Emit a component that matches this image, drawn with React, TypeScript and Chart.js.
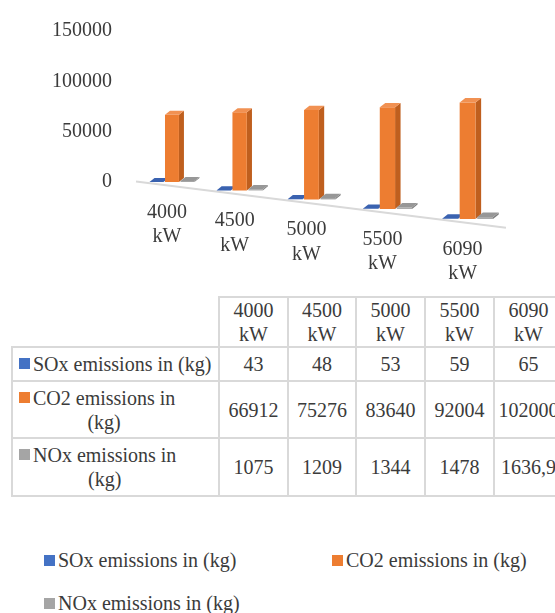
import React, { useEffect, useRef } from 'react';
import { Chart, registerables } from 'chart.js';

Chart.register(...registerables);

// ---- data -------------------------------------------------------------
const categories = ['4000 kW', '4500 kW', '5000 kW', '5500 kW', '6090 kW'];
const seriesNames = ['SOx emissions in (kg)', 'CO2 emissions in (kg)', 'NOx emissions in (kg)'];
const soxKg = [43, 48, 53, 59, 65];
const co2Kg = [66912, 75276, 83640, 92004, 102000];
const noxKg = [1075, 1209, 1344, 1478, 1636.9];
const yTickValues = [0, 50000, 100000, 150000];

const seriesData = [soxKg, co2Kg, noxKg];
const seriesColors = ['#4472C4', '#ED7D31', '#A5A5A5'];
const sideColors = ['#2F5597', '#BF5F1E', '#7F7F7F'];
const topColors = ['#3A62B0', '#F19152', '#979797'];

const FONT = '"Liberation Serif", "Times New Roman", serif';
const INK = '#3b3b3b';
const RULE = '#d9d9d9';

// ---- tilted 3-D view parameters -----------------------------------------
const VIEW = {
  bow: 13, // horizontal perspective bow of the column positions
  bowShift: 4.3,
  firstColumn: 41, // distance of the first column group from the plot's left edge
  floorSlope: 0.125, // drop of the floor per pixel to the right
  growth: 0.00045, // vertical magnification per pixel to the right
  depthX: 5,
  depthY: -4,
  floorGap: 4,
  labelDrop: 30.5,
  labelLine: 24.5,
  labelShift: -5,
};

function makeView(area: any) {
  const xc = (area.left + area.right) / 2;
  const half = (area.right - area.left) / 2;
  const x0 = area.left + VIEW.firstColumn;
  return {
    px: (x: number) => {
      const t = (x - xc) / half;
      return x + VIEW.bow * t * t - VIEW.bowShift;
    },
    base: (xp: number) => area.bottom + VIEW.floorSlope * (xp - x0),
    zoom: (xp: number) => 1 + VIEW.growth * (xp - x0),
  };
}

function fillPoly(ctx: CanvasRenderingContext2D, pts: number[][]) {
  ctx.beginPath();
  ctx.moveTo(pts[0][0], pts[0][1]);
  for (let i = 1; i < pts.length; i++) ctx.lineTo(pts[i][0], pts[i][1]);
  ctx.closePath();
  ctx.fill();
}

const perspective3d = {
  id: 'perspective3d',
  afterDatasetsUpdate(chart: any) {
    const xs = chart.scales.x;
    const ys = chart.scales.y;
    const view = makeView(chart.chartArea);
    const zero = ys.getPixelForValue(0);
    chart.data.datasets.forEach((ds: any, d: number) => {
      chart.getDatasetMeta(d).data.forEach((bar: any, i: number) => {
        const c = xs.getPixelForValue(i);
        const cp = view.px(c);
        const k = view.zoom(cp);
        const b = view.base(cp);
        const h = zero - ys.getPixelForValue(ds.data[i]);
        bar.x = cp + (bar.x - c) * k;
        bar.width = bar.width * k;
        bar.base = b;
        bar.y = b - h * k;
        bar.$depth = k;
      });
    });
  },
  beforeDatasetsDraw(chart: any) {
    const ctx = chart.ctx as CanvasRenderingContext2D;
    const area = chart.chartArea;
    const view = makeView(area);
    ctx.save();
    // front edge of the floor
    const fx0 = area.left + 5;
    const fx1 = area.right + 5.5;
    ctx.strokeStyle = RULE;
    ctx.lineWidth = 2;
    ctx.beginPath();
    ctx.moveTo(fx0, view.base(fx0) + VIEW.floorGap);
    ctx.lineTo(fx1, view.base(fx1) + VIEW.floorGap);
    ctx.stroke();
    // columns, left to right inside each group
    const metas = chart.data.datasets.map((_: any, d: number) => chart.getDatasetMeta(d));
    for (let i = 0; i < categories.length; i++) {
      metas.forEach((meta: any, d: number) => {
        const bar = meta.data[i];
        const k = bar.$depth || 1;
        const l = bar.x - bar.width / 2;
        const r = bar.x + bar.width / 2;
        const t = Math.min(bar.y, bar.base);
        const btm = bar.base;
        const dx = VIEW.depthX * k;
        const dy = VIEW.depthY * k;
        ctx.fillStyle = sideColors[d];
        fillPoly(ctx, [[r, t], [r + dx, t + dy], [r + dx, btm + dy], [r, btm]]);
        bar.draw(ctx, area);
        ctx.fillStyle = topColors[d];
        fillPoly(ctx, [[l, t], [r, t], [r + dx, t + dy], [l + dx, t + dy]]);
      });
    }
    ctx.restore();
    return false;
  },
  afterDraw(chart: any) {
    const ctx = chart.ctx as CanvasRenderingContext2D;
    const xs = chart.scales.x;
    const view = makeView(chart.chartArea);
    ctx.save();
    ctx.font = `20px ${FONT}`;
    ctx.fillStyle = INK;
    ctx.textAlign = 'center';
    ctx.textBaseline = 'middle';
    categories.forEach((label, i) => {
      const cp = view.px(xs.getPixelForValue(i));
      const y0 = view.base(cp) + VIEW.labelDrop;
      label.split(' ').forEach((line, j) => {
        ctx.fillText(line, cp + VIEW.labelShift, y0 + j * VIEW.labelLine);
      });
    });
    ctx.restore();
  },
};

// wraps a table row title the way the data table does
function wrapTitle(text: string, maxWidth: number): string[] {
  const ctx = document.createElement('canvas').getContext('2d');
  if (!ctx) return [text];
  ctx.font = `20px ${FONT}`;
  if (ctx.measureText(text).width <= maxWidth) return [text];
  const words = text.split(' ');
  const lines: string[] = [];
  let cur = '';
  for (const w of words) {
    const next = cur ? cur + ' ' + w : w;
    if (cur && ctx.measureText(next).width > maxWidth) {
      lines.push(cur);
      cur = w;
    } else {
      cur = next;
    }
  }
  lines.push(cur);
  return lines;
}

const fmt = (v: number) => String(v).replace('.', ',');

function EmissionsChart() {
  const ref = useRef<HTMLCanvasElement>(null);
  useEffect(() => {
    if (!ref.current) return;
    const chart = new Chart(ref.current, {
      type: 'bar',
      data: {
        labels: categories,
        datasets: seriesNames.map((name, d) => ({
          label: name,
          data: seriesData[d],
          backgroundColor: seriesColors[d],
          borderWidth: 0,
          categoryPercentage: 0.629,
          barPercentage: 0.9,
        })),
      },
      options: {
        responsive: false,
        animation: false,
        devicePixelRatio: 1,
        events: [],
        layout: { padding: { top: 24, right: 54.5, bottom: 114, left: 0 } },
        plugins: { legend: { display: false }, tooltip: { enabled: false } },
        scales: {
          x: { display: false },
          y: {
            min: 0,
            max: 150000,
            afterBuildTicks: (s: any) => {
              s.ticks = yTickValues.map((value) => ({ value }));
            },
            afterFit: (s: any) => {
              s.width = 131;
            },
            grid: { display: false, drawTicks: false },
            border: { display: false },
            ticks: {
              padding: 19,
              color: INK,
              font: { family: FONT, size: 20 },
              callback: (v: any) => String(v),
            },
          },
        },
      } as any,
      plugins: [perspective3d as any],
    });
    return () => chart.destroy();
  }, []);
  return (
    <canvas
      ref={ref}
      width={555}
      height={296}
      style={{ position: 'absolute', left: 0, top: 0, display: 'block' }}
    />
  );
}

const cellBorder = `2px solid ${RULE}`;
const cell: React.CSSProperties = {
  border: cellBorder,
  padding: '0 3px',
  textAlign: 'center',
  verticalAlign: 'middle',
};
const rowHeights = [34, 57, 58];

function DataTable() {
  return (
    <table
      style={{
        position: 'absolute',
        left: 11,
        top: 296,
        borderCollapse: 'collapse',
        tableLayout: 'fixed',
        width: 551,
        fontFamily: FONT,
        fontSize: 20,
        lineHeight: '24px',
        color: INK,
      }}
    >
      <colgroup>
        <col style={{ width: 207 }} />
        <col style={{ width: 69 }} />
        <col style={{ width: 68 }} />
        <col style={{ width: 69 }} />
        <col style={{ width: 69 }} />
        <col style={{ width: 69 }} />
      </colgroup>
      <tbody>
        <tr style={{ height: 47 }}>
          <td style={{ borderTop: 'none', borderLeft: 'none', borderRight: cellBorder, borderBottom: cellBorder }} />
          {categories.map((c) => (
            <td key={c} style={cell}>
              {c}
            </td>
          ))}
        </tr>
        {seriesNames.map((name, d) => {
          const lines = wrapTitle(name, 179.5);
          return (
            <tr key={name} style={{ height: rowHeights[d] }}>
              <td style={{ ...cell, textAlign: 'left', paddingLeft: 6 }}>
                <div style={{ display: 'flex', alignItems: 'flex-start' }}>
                  <span
                    style={{
                      width: 11,
                      height: 11,
                      background: seriesColors[d],
                      marginTop: 6,
                      marginRight: 3,
                      flex: 'none',
                    }}
                  />
                  <span style={{ display: 'inline-block', textAlign: 'center', whiteSpace: 'nowrap' }}>
                    {lines.map((ln, j) => (
                      <React.Fragment key={j}>
                        {j > 0 && <br />}
                        {ln}
                      </React.Fragment>
                    ))}
                  </span>
                </div>
              </td>
              {seriesData[d].map((v, i) => (
                <td key={i} style={{ ...cell, whiteSpace: 'nowrap' }}>
                  {fmt(v)}
                </td>
              ))}
            </tr>
          );
        })}
      </tbody>
    </table>
  );
}

function Legend() {
  return (
    <div
      style={{
        position: 'absolute',
        left: 44,
        top: 548,
        display: 'grid',
        gridTemplateColumns: '288px auto',
        rowGap: 19,
        fontFamily: FONT,
        fontSize: 20,
        lineHeight: '24px',
        color: INK,
      }}
    >
      {seriesNames.map((name, d) => (
        <div key={name} style={{ display: 'flex', alignItems: 'center', whiteSpace: 'nowrap' }}>
          <span style={{ width: 11, height: 11, background: seriesColors[d], marginRight: 3, flex: 'none' }} />
          {name}
        </div>
      ))}
    </div>
  );
}

export default function App() {
  return (
    <div
      style={{
        position: 'absolute',
        left: 0,
        top: 0,
        width: 555,
        height: 613,
        overflow: 'hidden',
        background: '#ffffff',
      }}
    >
      <EmissionsChart />
      <DataTable />
      <Legend />
    </div>
  );
}
